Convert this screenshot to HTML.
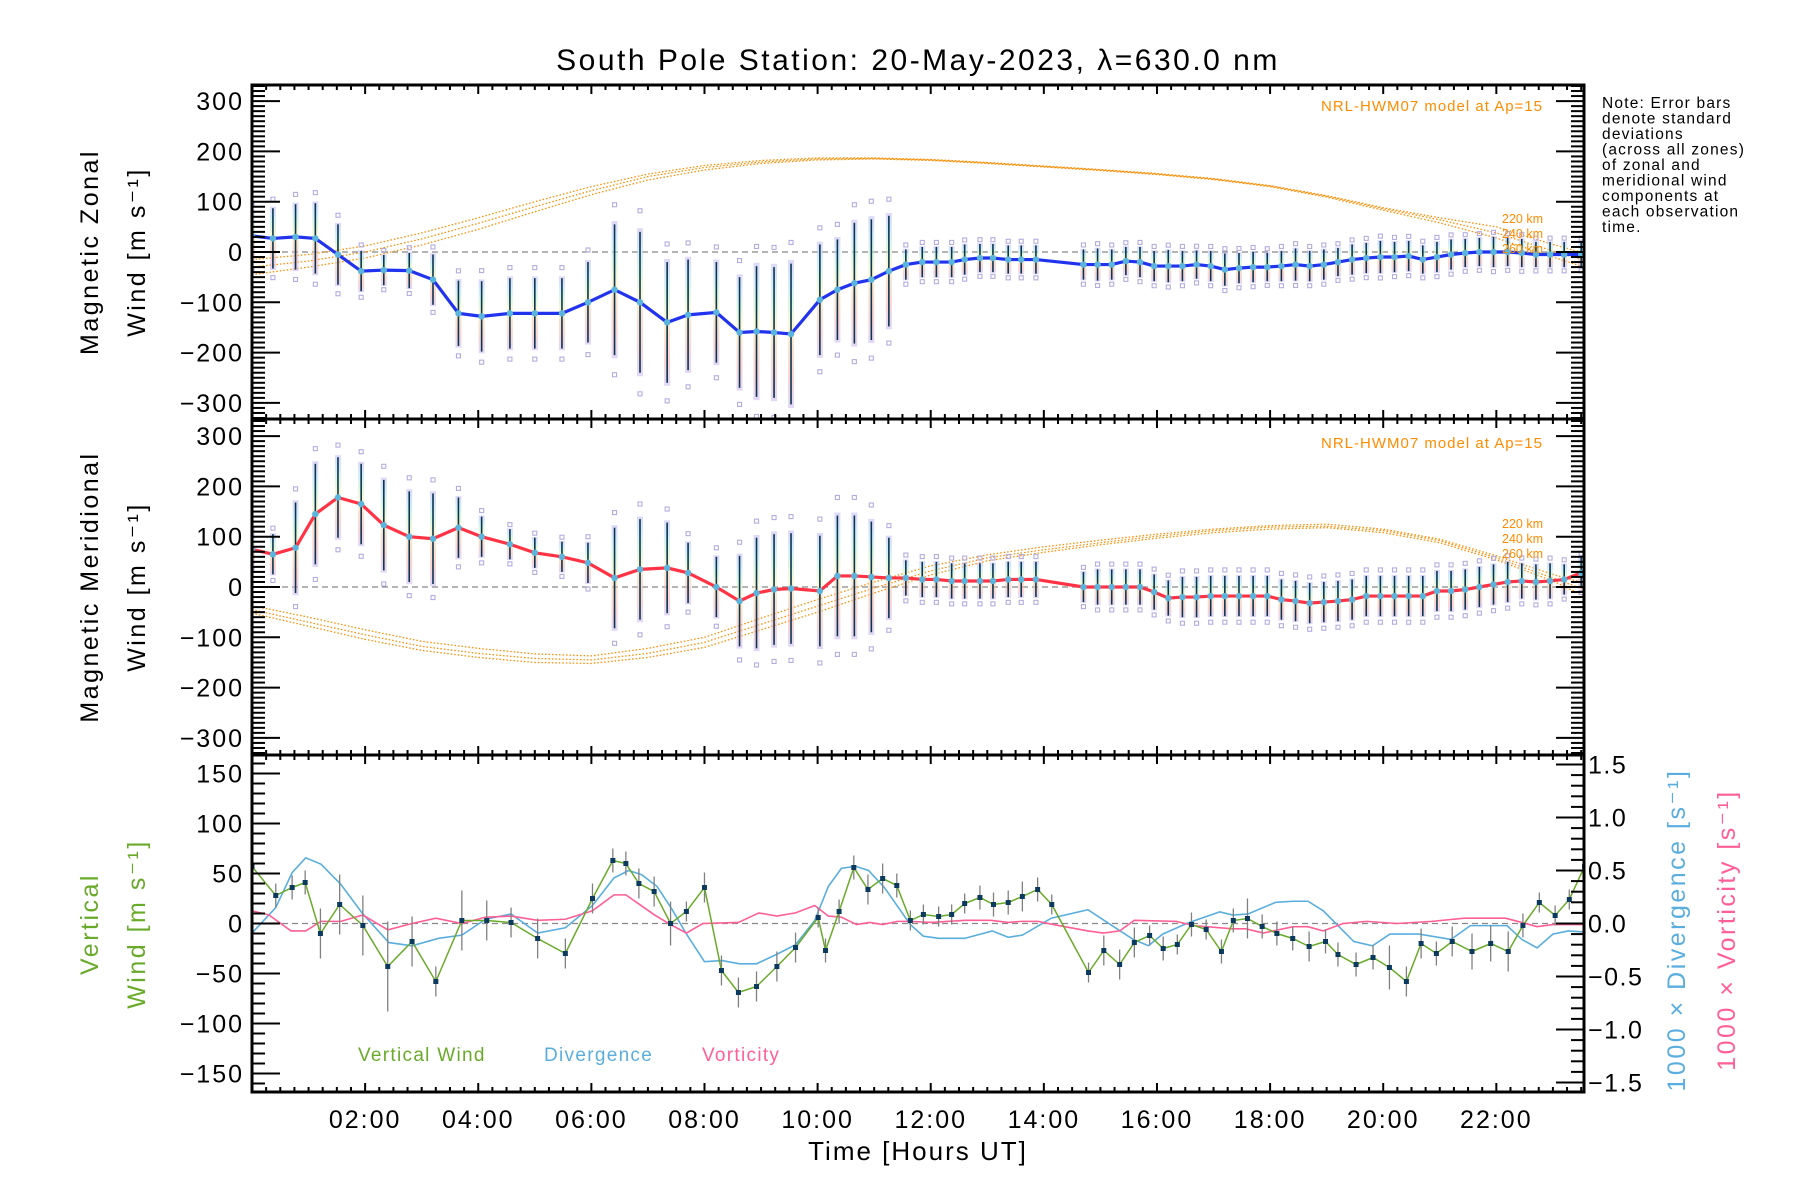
<!DOCTYPE html>
<html><head><meta charset="utf-8"><style>
html,body{margin:0;padding:0;background:#fff;}
svg{display:block;font-family:"Liberation Sans",sans-serif;}
</style></head><body>
<svg id="chart" width="1800" height="1200" viewBox="0 0 1800 1200" xmlns="http://www.w3.org/2000/svg">
<defs>
<linearGradient id="rb" x1="0" y1="0" x2="0" y2="1">
<stop offset="0" stop-color="#c0b8f0"/><stop offset="0.15" stop-color="#b0dcf8"/><stop offset="0.3" stop-color="#c0f0c8"/>
<stop offset="0.45" stop-color="#f8f0b0"/><stop offset="0.6" stop-color="#f8c8a0"/><stop offset="0.8" stop-color="#f8b0b0"/><stop offset="1" stop-color="#c8b8f0"/>
</linearGradient>
<clipPath id="c1"><rect x="252" y="85" width="1332" height="334"/></clipPath>
<clipPath id="c2"><rect x="252" y="419" width="1332" height="336"/></clipPath>
<clipPath id="c3"><rect x="252" y="755" width="1332" height="337"/></clipPath>
</defs>
<text x="918" y="70" font-size="30" letter-spacing="2.5" text-anchor="middle">South Pole Station: 20-May-2023, λ=630.0 nm</text>
<g font-size="15.5" letter-spacing="1.2" fill="#000">
<text x="1602" y="108">Note: Error bars</text><text x="1602" y="123.5">denote standard</text><text x="1602" y="139">deviations</text>
<text x="1602" y="154.5">(across all zones)</text><text x="1602" y="170">of zonal and</text><text x="1602" y="185.5">meridional wind</text>
<text x="1602" y="201">components at</text><text x="1602" y="216.5">each observation</text><text x="1602" y="232">time.</text>
</g>
<g id="g1"></g><g id="g2"></g><g id="g3"></g><g id="axes"></g>
</svg>
<script>
// ---- data ----
const obsT = [0.0,0.37,0.77,1.12,1.52,1.93,2.33,2.78,3.2,3.65,4.06,4.56,5.0,5.48,5.94,6.41,6.86,7.34,7.71,8.21,8.62,8.92,9.23,9.53,10.04,10.35,10.65,10.95,11.26,11.56,11.85,12.1,12.37,12.6,12.87,13.1,13.37,13.6,13.86,14.7,14.95,15.2,15.45,15.7,15.95,16.2,16.45,16.7,16.95,17.2,17.45,17.7,17.95,18.2,18.45,18.7,18.95,19.2,19.45,19.7,19.95,20.2,20.45,20.7,20.95,21.2,21.45,21.7,21.95,22.2,22.45,22.7,22.95,23.2,23.5];
const zonal = [32,27,30,27,-5,-38,-36,-37,-55,-122,-128,-122,-122,-122,-100,-75,-100,-140,-125,-120,-160,-158,-160,-163,-95,-75,-62,-55,-38,-25,-20,-20,-20,-15,-12,-12,-15,-15,-15,-25,-25,-25,-18,-20,-28,-28,-28,-25,-28,-35,-32,-30,-30,-28,-25,-28,-25,-20,-15,-12,-10,-10,-8,-15,-10,-5,-2,0,0,0,-2,-5,-5,-5,-5];
const zonalSd = [50,60,65,70,60,40,30,35,50,65,70,70,70,70,80,130,140,120,110,100,110,130,130,140,110,100,120,120,110,30,30,30,30,30,28,28,28,28,28,30,32,30,28,30,30,32,30,28,30,32,30,30,28,30,32,30,30,28,30,30,32,30,30,28,30,30,28,28,30,28,28,25,25,25,25];
const merid = [75,65,78,145,178,165,123,100,96,118,100,85,68,60,48,18,35,38,28,0,-28,-12,-5,-3,-8,22,22,20,18,18,15,15,12,12,12,12,15,15,15,0,0,0,0,0,-10,-22,-20,-20,-18,-18,-18,-18,-18,-25,-28,-32,-30,-28,-25,-18,-18,-18,-18,-18,-8,-8,-5,0,5,10,12,10,12,15,28];
const meridSd = [30,40,90,100,80,80,90,90,90,60,40,30,30,30,40,100,100,90,60,60,90,110,110,110,110,120,120,110,80,35,35,35,35,35,35,35,35,35,35,30,35,35,35,35,35,35,40,40,40,40,40,40,40,40,40,40,40,40,40,40,40,40,40,40,40,40,40,40,40,40,35,35,35,30,30];
const modelT = [0,1,2,3,4,5,6,7,8,9,10,11,12,13,14,15,16,17,18,19,20,21,22,23,23.55];
const zonal220 = [-15,-5,12,38,68,100,130,155,172,182,187,187,184,178,171,164,156,146,132,112,88,68,50,15,-2];
const zonal240 = [-30,-18,0,26,57,90,122,150,168,179,185,186,183,177,170,163,155,145,131,111,86,64,38,2,-16];
const zonal260 = [-45,-30,-12,14,45,80,114,143,163,176,183,185,182,176,169,162,154,144,130,109,83,58,28,-10,-30];
const merid220 = [-37,-60,-85,-108,-122,-133,-137,-122,-100,-62,-25,10,42,64,80,93,105,115,122,125,115,95,62,25,8];
const merid240 = [-45,-70,-95,-118,-132,-142,-145,-132,-110,-74,-38,-2,32,58,74,88,101,112,119,121,112,92,58,18,-5];
const merid260 = [-52,-78,-104,-126,-140,-150,-152,-140,-120,-85,-50,-12,24,52,69,84,97,108,115,118,108,88,54,12,-18];
const wT = [0,0.42,0.71,0.94,1.21,1.55,1.96,2.40,2.83,3.25,3.71,4.15,4.58,5.05,5.54,6.02,6.38,6.61,6.84,7.11,7.40,7.68,8.00,8.30,8.60,8.92,9.28,9.61,10.01,10.14,10.38,10.64,10.89,11.15,11.40,11.64,11.87,12.14,12.37,12.60,12.87,13.11,13.37,13.62,13.89,14.14,14.79,15.06,15.34,15.60,15.87,16.11,16.36,16.61,16.87,17.14,17.35,17.60,17.86,18.12,18.40,18.69,18.98,19.20,19.52,19.82,20.11,20.41,20.67,20.94,21.22,21.57,21.90,22.21,22.47,22.76,23.04,23.29,23.56];
const wVal = [57,28,36,41,-10,19,-2,-43,-18,-58,3,3,1,-15,-30,25,63,60,40,32,0,12,36,-47,-69,-63,-43,-24,6,-27,12,56,34,45,38,3,9,7,9,20,26,19,21,27,34,19,-49,-27,-41,-19,-12,-25,-21,-1,-6,-28,3,5,-3,-10,-15,-23,-18,-31,-41,-34,-44,-58,-20,-30,-18,-28,-20,-28,-2,21,8,24,57];
const wErr = [0,12,12,12,25,30,30,45,25,15,30,20,15,20,15,15,12,12,15,15,22,10,15,15,15,15,15,15,10,12,12,12,15,15,12,10,10,10,10,10,12,12,12,15,12,10,10,15,15,15,10,12,10,12,10,12,12,20,12,12,12,15,12,12,12,12,22,15,15,12,15,18,18,20,12,10,10,10,0];
const divT = [0,0.42,0.71,0.95,1.22,1.57,1.96,2.42,2.83,3.30,3.71,4.13,4.58,5.05,5.54,6.02,6.40,6.66,6.89,7.16,7.43,7.67,8.00,8.31,8.62,8.92,9.28,9.61,9.95,10.19,10.42,10.67,10.90,11.18,11.64,11.87,12.14,12.60,13.09,13.37,13.62,14.13,14.78,15.12,15.58,15.85,16.10,16.57,17.11,17.34,17.61,18.10,18.41,18.67,18.94,19.48,19.81,20.12,20.63,21.20,21.54,22.19,22.45,22.72,23.00,23.27,23.53];
const divVal = [-0.09,0.15,0.48,0.62,0.56,0.37,0.09,-0.18,-0.21,-0.14,-0.11,0.04,0.09,-0.09,-0.04,0.17,0.43,0.50,0.46,0.35,0.13,-0.09,-0.36,-0.35,-0.38,-0.38,-0.29,-0.20,0.03,0.35,0.52,0.54,0.50,0.34,-0.01,-0.12,-0.14,-0.14,-0.07,-0.13,-0.11,0.05,0.13,0.01,-0.15,-0.21,-0.10,0.01,0.11,0.08,0.09,0.20,0.21,0.21,0.12,-0.17,-0.21,-0.10,-0.10,-0.15,-0.02,-0.02,-0.15,-0.23,-0.10,-0.07,-0.08];
const vorT = [0,0.30,0.69,0.95,1.22,1.57,1.96,2.40,2.83,3.25,3.71,4.13,4.58,5.05,5.54,6.02,6.40,6.61,7.12,7.40,7.68,7.97,8.60,8.96,9.28,9.61,9.95,10.19,10.42,10.69,10.92,11.15,11.41,11.64,12.01,12.60,13.06,13.37,13.60,13.90,14.17,14.78,15.05,15.34,15.60,16.34,16.65,17.34,17.57,17.88,18.41,18.67,18.94,19.29,19.71,20.25,20.86,21.43,22.16,22.45,22.72,23.00,23.53];
const vorVal = [0.12,0.08,-0.07,-0.07,0.02,0.02,0.08,-0.06,0,0.05,0,0.06,0.07,0.03,0.04,0.12,0.27,0.27,0.08,-0.01,-0.09,0,0.01,0.10,0.07,0.10,0.17,0.07,0.06,-0.01,0.01,-0.01,0.02,0.02,0.01,0.03,0.03,0.01,0.02,0.02,-0.01,-0.07,-0.09,-0.07,0.03,0.02,-0.02,-0.05,-0.05,-0.09,-0.03,-0.03,-0.07,0,0.02,0,0.02,0.05,0.05,0.01,-0.03,-0.01,-0.01];
const xTickLabels = ["02:00","04:00","06:00","08:00","10:00","12:00","14:00","16:00","18:00","20:00","22:00"];
const xTickHours = [2,4,6,8,10,12,14,16,18,20,22];
const windTicks = [300,200,100,0,-100,-200,-300];
const vertTicks = [150,100,50,0,-50,-100,-150];
const rightTicks = [1.5,1.0,0.5,0.0,-0.5,-1.0,-1.5];

// ---- scales ----
const L=252,R=1584,TMAX=23.55;
const X=t=>L+t/TMAX*(R-L);
const Y1=v=>252-v*0.503, Y2=v=>587-v*0.503, Y3=v=>923.5-v*1.0, YR=d=>923.5-d*106;
const NS="http://www.w3.org/2000/svg";
function mk(tag,attrs,parent){const e=document.createElementNS(NS,tag);for(const k in attrs)e.setAttribute(k,attrs[k]);parent.appendChild(e);return e;}
function txt(s,attrs,parent){const e=mk('text',attrs,parent);e.textContent=s;return e;}
const ORANGE="#ff8c00";

function windPanel(gid,clip,Y,vals,sds,m1,m2,m3,lineColor,name){
  const g=document.getElementById(gid);
  const d=mk('g',{'clip-path':'url(#'+clip+')'},g);
  
  
  const z=mk('line',{x1:L,x2:R,y1:Y(0),y2:Y(0),stroke:'#888','stroke-width':1.2,'stroke-dasharray':'6 4'},d);
  
  
  [m1,m2,m3].forEach((m,k)=>{
    const p=mk('polyline',{points:modelT.map((t,i)=>X(t)+','+Y(m[i])).join(' '),fill:'none',stroke:ORANGE,'stroke-width':1.3,'stroke-dasharray':'1.5 2'},d);
    
    
  });
  obsT.forEach((t,i)=>{
    const x=X(t),v=vals[i],s=sds[i];
    const r=mk('rect',{x:x-3,y:Y(v+s*1.05),width:6,height:Y(v-s*1.05)-Y(v+s*1.05),fill:'url(#rb)',opacity:0.55},d);
    
    
    [1.3,-1.3].forEach(f=>{
      const q=mk('rect',{x:x-2,y:Y(v+s*f)-2,width:4,height:4,fill:'none',stroke:'#b4acdf','stroke-width':1.1},d);
      
      
    });
    const e=mk('line',{x1:x,x2:x,y1:Y(v+s),y2:Y(v-s),stroke:'#0b3550','stroke-width':1.6},d);
    
    
  });
  const ln=mk('polyline',{points:obsT.map((t,i)=>X(t)+','+Y(vals[i])).join(' '),fill:'none',stroke:lineColor,'stroke-width':3.2},d);
  
  
  obsT.forEach((t,i)=>{
    const c=mk('circle',{cx:X(t),cy:Y(vals[i]),r:3.2,fill:'#5ab4dc'},d);
    
    
  });
}
windPanel('g1','c1',Y1,zonal,zonalSd,zonal220,zonal240,zonal260,'#2233ee','zonal');
windPanel('g2','c2',Y2,merid,meridSd,merid220,merid240,merid260,'#ff3344','meridional');

// panel 3
(function(){
  const g=document.getElementById('g3');
  const d=mk('g',{'clip-path':'url(#c3)'},g);
  
  
  const z=mk('line',{x1:L,x2:R,y1:Y3(0),y2:Y3(0),stroke:'#888','stroke-width':1.2,'stroke-dasharray':'6 4'},d);
  
  
  const dv=mk('polyline',{points:divT.map((t,i)=>X(t)+','+YR(divVal[i])).join(' '),fill:'none',stroke:'#5aaede','stroke-width':1.6},d);
  
  
  const vo=mk('polyline',{points:vorT.map((t,i)=>X(t)+','+YR(vorVal[i])).join(' '),fill:'none',stroke:'#ff5f96','stroke-width':1.6},d);
  
  
  wT.forEach((t,i)=>{
    if(wErr[i]>0){
      const e=mk('line',{x1:X(t),x2:X(t),y1:Y3(wVal[i]+wErr[i]),y2:Y3(wVal[i]-wErr[i]),stroke:'#808080','stroke-width':1.3},d);
      
      
    }
  });
  const w=mk('polyline',{points:wT.map((t,i)=>X(t)+','+Y3(wVal[i])).join(' '),fill:'none',stroke:'#6aaa2a','stroke-width':1.5},d);
  
  
  wT.forEach((t,i)=>{
    const c=mk('rect',{x:X(t)-2.5,y:Y3(wVal[i])-2.5,width:5,height:5,fill:'#0b3a5e'},d);
    
    
  });
  const leg=[["Vertical Wind",358,'#6aaa2a'],["Divergence",544,'#5aaede'],["Vorticity",702,'#ff5f96']];
  leg.forEach(a=>{
    const t=txt(a[0],{x:a[1],y:1061,'font-size':19,'letter-spacing':1.3,fill:a[2]},g);
    
    
  });
})();

// model labels
[[111,223,238,253],[448,528,543,558]].forEach((a,k)=>{
  const g=document.getElementById(k?'g2':'g1');
  const t=txt("NRL-HWM07 model at Ap=15",{x:1543,y:a[0],'font-size':15,'letter-spacing':1,fill:ORANGE,'text-anchor':'end'},g);
  
  
  ["220 km","240 km","260 km"].forEach((s,i)=>{
    const u=txt(s,{x:1543,y:a[i+1],'font-size':12.5,fill:ORANGE,'text-anchor':'end'},g);
    
    
  });
});

// axes
(function(){
  const g=document.getElementById('axes');
  const panels=[[85,419],[419,755],[755,1092]];
  panels.forEach((p,k)=>{
    const f=mk('rect',{x:L,y:p[0],width:R-L,height:p[1]-p[0],fill:'none',stroke:'#000','stroke-width':3},g);
    
    
    for(let q=0;q<=94;q++){
      const t=q*0.25; if(t>TMAX) break;
      const len=(q%8===0)?9:5;
      mk('line',{x1:X(t),x2:X(t),y1:p[0],y2:p[0]+len,stroke:'#000','stroke-width':2},g);
      mk('line',{x1:X(t),x2:X(t),y1:p[1],y2:p[1]-len,stroke:'#000','stroke-width':2},g);
    }
  });
  [[Y1,85,419],[Y2,419,755]].forEach(([Y,a,b])=>{
    for(let v=-330;v<=330;v+=10){
      const y=Y(v); if(y<a+1||y>b-1) continue;
      const len=(v%100===0)?28:13;
      mk('line',{x1:L,x2:L+len,y1:y,y2:y,stroke:'#000','stroke-width':2},g);
      mk('line',{x1:R,x2:R-len,y1:y,y2:y,stroke:'#000','stroke-width':2},g);
    }
    windTicks.forEach(v=>{
      const t=txt(String(v).replace('-','\u2212'),{x:L-8,y:Y(v)+9,'font-size':25,'letter-spacing':2,'text-anchor':'end'},g);
      
      
    });
  });
  for(let v=-160;v<=160;v+=10){
    const len=(v%50===0)?28:13;
    mk('line',{x1:L,x2:L+len,y1:Y3(v),y2:Y3(v),stroke:'#000','stroke-width':2},g);
  }
  vertTicks.forEach(v=>{
    const t=txt(String(v).replace('-','\u2212'),{x:L-8,y:Y3(v)+9,'font-size':25,'letter-spacing':2,'text-anchor':'end'},g);
    
    
  });
  for(let i=-15;i<=15;i++){
    const d=i/10,len=(i%5===0)?28:13;
    mk('line',{x1:R,x2:R-len,y1:YR(d),y2:YR(d),stroke:'#000','stroke-width':2},g);
  }
  rightTicks.forEach(v=>{
    const t=txt((v<0?'\u2212':'')+Math.abs(v).toFixed(1),{x:R+4,y:YR(v)+9,'font-size':25,'letter-spacing':1.5},g);
    
    
  });
  xTickHours.forEach((h,i)=>{
    const t=txt(xTickLabels[i],{x:X(h),y:1128,'font-size':25,'letter-spacing':2,'text-anchor':'middle'},g);
    
    
  });
  const xt=txt("Time [Hours UT]",{x:918,y:1160,'font-size':26,'letter-spacing':2,'text-anchor':'middle'},g);
  
  
  const titles=[["Magnetic Zonal",252,'#000',98],["Wind [m s\u207B\u00B9]",252,'#000',145],
    ["Magnetic Meridional",587,'#000',98],["Wind [m s\u207B\u00B9]",587,'#000',145],
    ["Vertical",924,'#6aaa2a',98],["Wind [m s\u207B\u00B9]",924,'#6aaa2a',145]];
  titles.forEach(a=>{
    const t=txt(a[0],{x:a[3],y:a[1],'font-size':25,'letter-spacing':2.5,fill:a[2],'text-anchor':'middle',transform:'rotate(-90 '+a[3]+' '+a[1]+')'},g);
    
    
  });
  [["1000 \u00D7 Divergence [s\u207B\u00B9]",1685,'#5aaede'],["1000 \u00D7 Vorticity [s\u207B\u00B9]",1735,'#ff5f96']].forEach(a=>{
    const t=txt(a[0],{x:a[1],y:930,'font-size':25,'letter-spacing':2.5,fill:a[2],'text-anchor':'middle',transform:'rotate(-90 '+a[1]+' 930)'},g);
    
    
  });
})();
</script>
</body></html>
